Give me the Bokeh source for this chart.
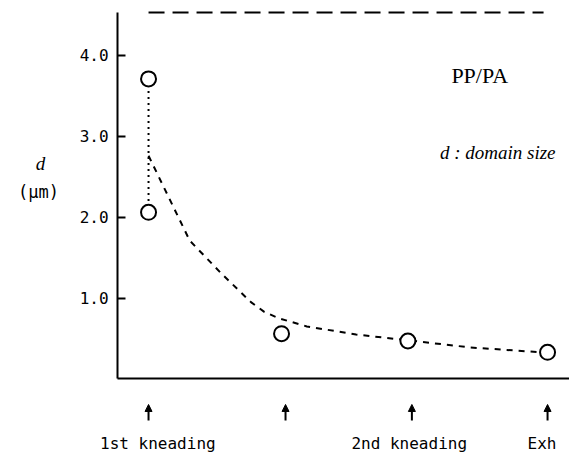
from bokeh.plotting import figure
from bokeh.models import Range1d, LinearAxis, FixedTicker, Arrow, NormalHead, Label
from bokeh.core.properties import value
from bokeh.embed import file_html
from bokeh.resources import INLINE

# ---- data ----
point_stage = [0.0, 0.0, 1.0, 1.95, 3.0]
point_d = [3.71, 2.06, 0.56, 0.47, 0.33]

drop_stage = [0.0, 0.0]
drop_d = [3.71, 2.06]

trend_stage = [0.0, 0.31, 0.55, 0.77, 0.87, 0.98, 1.19, 1.56, 1.94, 2.42, 2.95]
trend_d = [2.76, 1.71, 1.30, 0.95, 0.83, 0.75, 0.65, 0.55, 0.48, 0.39, 0.33]

upper_stage = [0.0, 2.97]
upper_d = [4.53, 4.53]

y_ticks = [1, 2, 3, 4]
y_tick_labels = {1: "1.0", 2: "2.0", 3: "3.0", 4: "4.0"}

arrow_stage = [0.0, 1.03, 1.98, 3.0]
step_labels = ["1st kneading", "2nd kneading", "Exh"]
step_label_stage = [0.07, 1.96, 2.85]
step_label_align = ["center", "center", "left"]

MONO = "DejaVu Sans Mono"
SERIF = "Liberation Serif"

X_AXIS_AT = -0.233   # stage value where the d axis sits
p = figure(width=569, height=453,
           x_range=Range1d(-1.113, 3.165), y_range=Range1d(-0.921, 4.679),
           x_axis_location=None, y_axis_location=None,
           toolbar_location=None, output_backend="svg",
           min_border_left=0, min_border_right=0,
           min_border_top=0, min_border_bottom=0,
           outline_line_color=None, background_fill_color="white")
p.xgrid.grid_line_color = None
p.ygrid.grid_line_color = None

yaxis = LinearAxis(ticker=FixedTicker(ticks=y_ticks), bounds=(0, 4.53),
                   fixed_location=X_AXIS_AT,
                   major_label_overrides=y_tick_labels,
                   axis_line_width=2, axis_line_color="black",
                   major_tick_in=8, major_tick_out=0, major_tick_line_width=2,
                   minor_tick_line_color=None,
                   major_label_text_font=MONO, major_label_text_font_size="16px",
                   major_label_text_color="black", major_label_standoff=9)
p.add_layout(yaxis, "left")

xaxis = LinearAxis(ticker=FixedTicker(ticks=[]), bounds=(X_AXIS_AT, 3.165),
                   fixed_location=0,
                   axis_line_width=2, axis_line_color="black",
                   major_tick_line_color=None, minor_tick_line_color=None,
                   major_label_text_font_size="0px")
p.add_layout(xaxis, "below")

p.line(upper_stage, upper_d, line_color="black", line_width=2, line_dash="16 8")
p.line(trend_stage, trend_d, line_color="black", line_width=2, line_dash="6 6")
p.line(drop_stage, drop_d, line_color="black", line_width=2, line_dash="2 4")
p.scatter(point_stage, point_d, marker="circle", size=15,
          fill_color="white", line_color="black", line_width=2)

for s in arrow_stage:
    p.add_layout(Arrow(end=NormalHead(size=7, fill_color="black", line_color="black"),
                       x_start=s, y_start=-0.513, x_end=s, y_end=-0.315,
                       line_width=2, line_color="black"))

for s, t, a in zip(step_label_stage, step_labels, step_label_align):
    p.text([s], [-0.797], text=[t], text_font=value(MONO), text_font_size="16px",
           text_align=a, text_baseline="middle", text_color="black")

p.text([2.49], [3.75], text=["PP/PA"], text_font=value(SERIF), text_font_size="22px",
       text_align="center", text_baseline="middle", text_color="black")
p.text([3.06], [2.80], text=["d : domain size"], text_font=value(SERIF),
       text_font_style="italic", text_font_size="19px",
       text_align="right", text_baseline="middle", text_color="black")

p.add_layout(Label(x=-0.812, y=2.66, text="d", text_font=SERIF, text_font_style="italic",
                   text_font_size="19px", text_align="center", text_baseline="middle",
                   text_color="black"))
p.add_layout(Label(x=-0.827, y=2.31, text="(μm)", text_font=MONO,
                   text_font_size="17px", text_align="center", text_baseline="middle",
                   text_color="black"))

open("out.html", "w").write(file_html(p, INLINE))
